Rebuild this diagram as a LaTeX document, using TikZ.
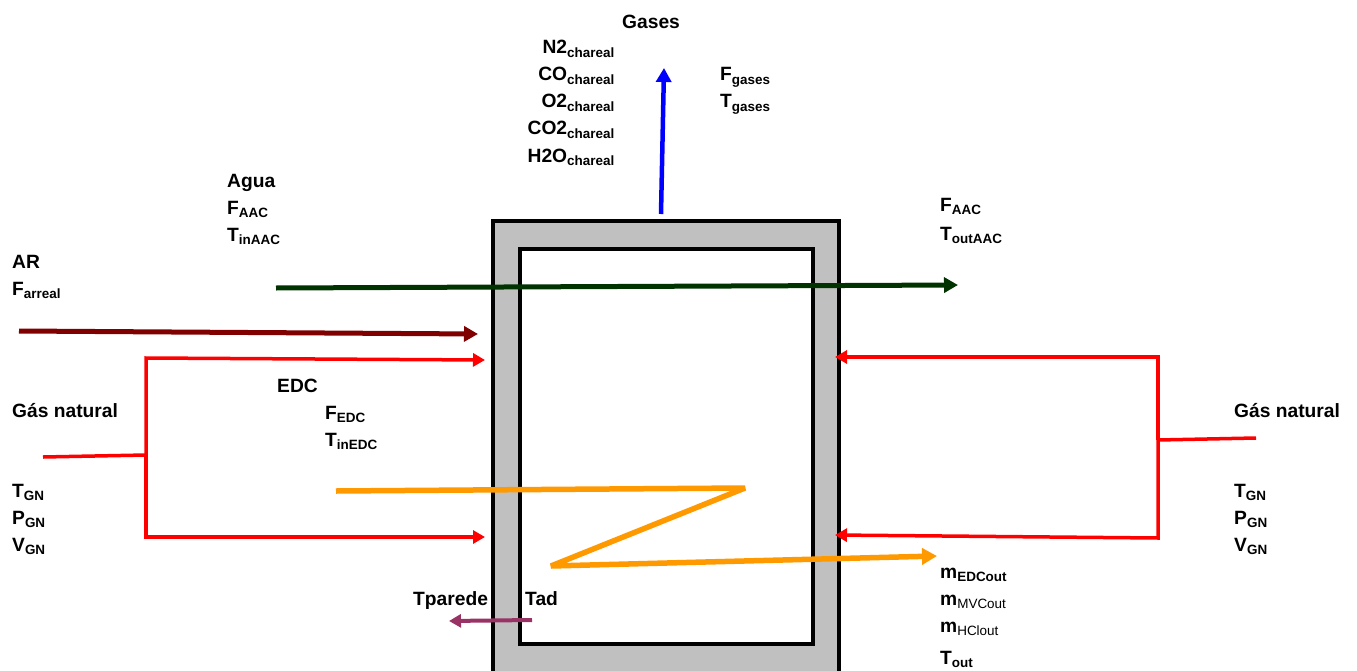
\documentclass[tikz,border=0pt]{standalone}
\usepackage{fontspec}
\setmainfont{Liberation Sans}
\usetikzlibrary{arrows.meta}
\definecolor{wallgray}{HTML}{C0C0C0}
\definecolor{darkred}{HTML}{800000}
\definecolor{darkgreen}{HTML}{003300}
\definecolor{orangeline}{HTML}{FF9900}
\definecolor{purpleline}{HTML}{993366}
\tikzset{
 x=1bp,y=-1bp,
 lbl/.style={font=\bfseries\fontsize{19.3}{22}\selectfont,inner sep=0pt,anchor=base west,text=black},
 lblr/.style={lbl,anchor=base east},
 flow/.style={line width=#1,-{Triangle[length=14bp,width=15bp]}},
 flow/.default=4bp,
 pipe/.style={line width=3.5bp,red,line join=miter},
 redtip/.style={pipe,-{Triangle[length=12bp,width=13bp]}},
 orangepath/.style={line width=5.5bp,orangeline,line join=bevel}
}
\newcommand{\sbs}[2]{#1\textsubscript{#2}}
\newcommand{\sbn}[2]{#1\textsubscript{\mdseries #2}}
\begin{document}
\begin{tikzpicture}
\useasboundingbox (0,0) rectangle (1357,671);
\fill[wallgray,draw=black,line width=3.5bp] (493,221) -- (839,221) -- (839,680) -- (493,680) -- cycle;
\node[fill=white,draw=black,line width=3.5bp,outer sep=0pt,minimum width=293bp,minimum height=395bp,inner sep=0pt,anchor=north west] (inner) at (520,249) {};

\coordinate (gasA) at (661,214); \coordinate (gasB) at (664,68);
\draw[flow=4.5bp,blue] (gasA) -- (gasB);
\coordinate (wA) at (276,288); \coordinate (wB) at (958,285);
\draw[flow=5bp,darkgreen] (wA) -- (wB);
\coordinate (arA) at (19,331); \coordinate (arB) at (478,334);
\draw[flow=5bp,darkred] (arA) -- (arB);

\coordinate (gl0) at (43,457); \coordinate (glm) at (146,455);
\coordinate (glt) at (146,358); \coordinate (glb) at (146,537);
\coordinate (glt2) at (485,360); \coordinate (glb2) at (485,537);
\draw[pipe] (gl0) -- (glm);
\draw[redtip] (glm) -- (glt) -- (glt2);
\draw[redtip] (glm) -- (glb) -- (glb2);

\coordinate (gr0) at (1256,438); \coordinate (grm) at (1158,440);
\coordinate (grt) at (1158,357); \coordinate (grb) at (1158,538);
\coordinate (grt2) at (835,357); \coordinate (grb2) at (835,535);
\draw[pipe] (gr0) -- (grm);
\draw[redtip] (grm) -- (grt) -- (grt2);
\draw[redtip] (grm) -- (grb) -- (grb2);

\coordinate (o1) at (336,491); \coordinate (o2) at (745,488);
\coordinate (o3) at (551,566); \coordinate (o4) at (937,556);
\draw[orangepath,-{Triangle[length=15bp,width=16bp]}] (o1) -- (o2) -- (o3) -- (o4);

\coordinate (pA) at (532,620); \coordinate (pB) at (449,621);
\draw[line width=4bp,purpleline,-{Triangle[length=12bp,width=13bp]}] (pA) -- (pB);

\node[lbl] (tGases) at (622,29) {Gases};
\node[lblr] (n1) at (615,54) {\sbs{N2}{chareal}};
\node[lblr] (n2) at (615,81) {\sbs{CO}{chareal}};
\node[lblr] (n3) at (615,108) {\sbs{O2}{chareal}};
\node[lblr] (n4) at (615,135) {\sbs{CO2}{chareal}};
\node[lblr] (n5) at (615,162) {\sbs{H2O}{chareal}};
\node[lbl] (fg) at (720,81) {\sbs{F}{gases}};
\node[lbl] (tg) at (720,108) {\sbs{T}{gases}};
\node[lbl] (agua) at (227,187) {Agua};
\node[lbl] (faac) at (227,214) {\sbs{F}{AAC}};
\node[lbl] (tin) at (227,241) {\sbs{T}{inAAC}};
\node[lbl] (faac2) at (940,211) {\sbs{F}{AAC}};
\node[lbl] (tout) at (940,240) {\sbs{T}{outAAC}};
\node[lbl] (ar) at (12,268) {AR};
\node[lbl] (far) at (12,295) {\sbs{F}{arreal}};
\node[lbl] (gn1) at (12,417) {Gás natural};
\node[lbl] (t1) at (12,497) {\sbs{T}{GN}};
\node[lbl] (p1) at (12,524) {\sbs{P}{GN}};
\node[lbl] (v1) at (12,551) {\sbs{V}{GN}};
\node[lbl] (gn2) at (1234,417) {Gás natural};
\node[lbl] (t2) at (1234,497) {\sbs{T}{GN}};
\node[lbl] (p2) at (1234,524) {\sbs{P}{GN}};
\node[lbl] (v2) at (1234,551) {\sbs{V}{GN}};
\node[lbl] (edc) at (277,392) {EDC};
\node[lbl] (fedc) at (325,419) {\sbs{F}{EDC}};
\node[lbl] (tedc) at (325,446) {\sbs{T}{inEDC}};
\node[lbl] (m1) at (940,578) {\sbs{m}{EDCout}};
\node[lbl] (m2) at (940,605) {\sbn{m}{MVCout}};
\node[lbl] (m3) at (940,632) {\sbn{m}{HClout}};
\node[lbl] (to) at (940,664) {\sbs{T}{out}};
\node[lbl] (tp) at (413,605) {Tparede};
\node[lbl] (tad) at (525,605) {Tad};
\end{tikzpicture}
\end{document}
